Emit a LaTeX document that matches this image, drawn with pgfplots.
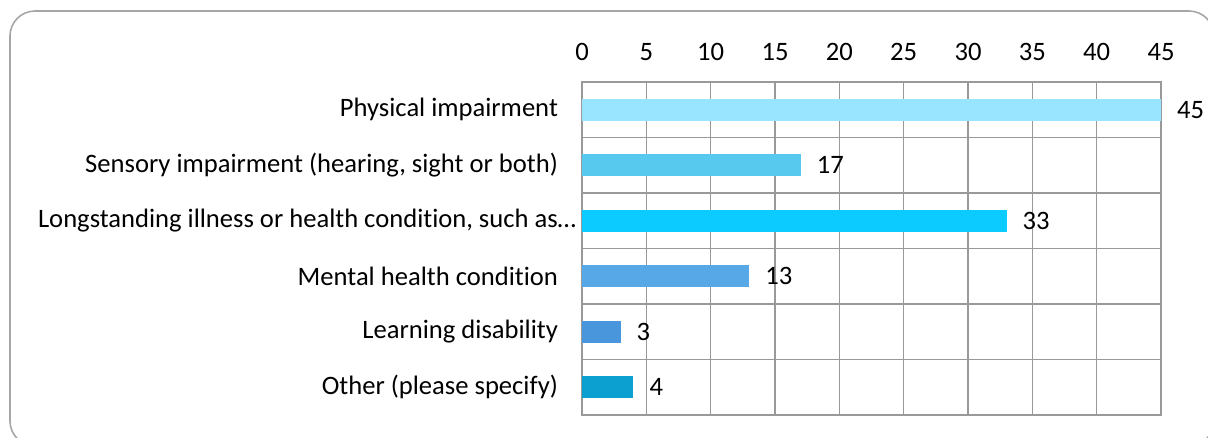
\documentclass[border=0pt]{standalone}
\usepackage{fontspec}
\setmainfont{Carlito}[Ligatures=NoCommon]
\usepackage{pgfplots}
\pgfplotsset{compat=1.18}
\definecolor{gridc}{HTML}{999999}
\definecolor{framec}{HTML}{A6A6A6}
\definecolor{c1}{HTML}{99E5FF}
\definecolor{c2}{HTML}{57C8EE}
\definecolor{c3}{HTML}{0CCBFF}
\definecolor{c4}{HTML}{57A8E6}
\definecolor{c5}{HTML}{4A96DC}
\definecolor{c6}{HTML}{0BA0D0}
\begin{document}
\begin{tikzpicture}
\useasboundingbox (0,0) rectangle (604pt,-219pt);
\draw[color=framec, line width=0.8pt, rounded corners=12.5pt] (5pt,-5.5pt) rectangle (607pt,-223pt);
\begin{axis}[
  at={(291pt,-41pt)}, anchor=north west,
  width=289.5pt, height=166.5pt, scale only axis,
  xbar, xmin=0, xmax=45, ymin=-0.5, ymax=5.5, y dir=reverse,
  xtick={0,5,...,45}, xticklabel pos=right,
  ytick={0,...,5},
  yticklabels={{Physical impairment},{Sensory impairment (hearing, sight or both)},{Longstanding illness or health condition, such as\rlap{…}},{Mental health condition},{Learning disability},{Other (please specify)}},
  minor ytick={0.5,1.5,2.5,3.5,4.5},
  xmajorgrids, yminorgrids,
  grid style={gridc, line width=0.75pt},
  minor grid style={gridc, line width=0.75pt},
  axis line style={gridc, line width=0.85pt},
  major tick length=0pt, minor tick length=0pt,
  tick style={draw=none},
  /pgf/number format/assume math mode=true,
  tick label style={font=\fontsize{13.3}{15}\selectfont, text=black},
  xticklabel style={yshift=7pt},
  yticklabel style={xshift=-8.5pt},
  bar width=0.4, bar shift=0pt,
  nodes near coords,
  nodes near coords style={anchor=west, xshift=4.5pt, font=\fontsize{13.3}{15}\selectfont, text=black},
  clip=false,
]
\addplot[fill=c1, draw=none] coordinates {(45,0)};
\addplot[fill=c2, draw=none] coordinates {(17,1)};
\addplot[fill=c3, draw=none] coordinates {(33,2)};
\addplot[fill=c4, draw=none] coordinates {(13,3)};
\addplot[fill=c5, draw=none] coordinates {(3,4)};
\addplot[fill=c6, draw=none] coordinates {(4,5)};
\end{axis}
\end{tikzpicture}
\end{document}
